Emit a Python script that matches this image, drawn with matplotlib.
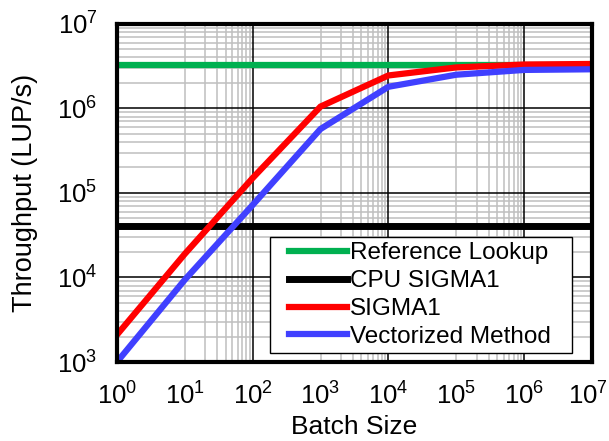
import numpy as np
import matplotlib
matplotlib.use("Agg")
import matplotlib.pyplot as plt
from matplotlib.patches import Rectangle
from matplotlib.transforms import ScaledTranslation

plt.rcParams['font.family'] = ['Liberation Sans', 'DejaVu Sans']
plt.rcParams['mathtext.fontset'] = 'custom'
plt.rcParams['mathtext.rm'] = 'Liberation Sans'
plt.rcParams['mathtext.default'] = 'regular'

# data
batch = [1e0, 1e1, 1e2, 1e3, 1e4, 1e5, 1e6, 1e7]
sigma1 = [2.1e3, 1.9e4, 1.5e5, 1.05e6, 2.45e6, 3.05e6, 3.3e6, 3.35e6]
vectorized = [1.0e3, 9.4e3, 7.2e4, 5.7e5, 1.8e6, 2.5e6, 2.85e6, 2.9e6]
reference_lookup = 3.25e6
cpu_sigma1 = 4.05e4

fig = plt.figure(figsize=(6.09, 4.41), dpi=100)
ax = fig.add_axes([0.192, 0.179, 0.780, 0.767])
ax.set_xscale('log')
ax.set_yscale('log')
ax.set_xlim(1e0, 1e7)
ax.set_ylim(1e3, 1e7)

# grid, Excel style: vertical majors every 2 decades, minors in the odd decades
for e in range(0, 7, 2):
    ax.axvline(10.0 ** e, color='black', lw=1.1, zorder=1)
for e in range(1, 7, 2):
    for k in range(1, 10):
        ax.axvline(k * 10.0 ** e, color='#BFBFBF', lw=1.1, zorder=0.5)
for e in range(3, 7):
    ax.axhline(10.0 ** e, color='black', lw=1.1, zorder=1)
    for k in range(2, 10):
        ax.axhline(k * 10.0 ** e, color='#BFBFBF', lw=1.1, zorder=0.5)

ax.axhline(reference_lookup, color='#00B050', lw=4.5, label='Reference Lookup', zorder=3)
ax.axhline(cpu_sigma1, color='black', lw=5, label='CPU SIGMA1', zorder=3)
ax.plot(batch, sigma1, color='#FF0000', lw=4.5, label='SIGMA1', zorder=4,
        solid_joinstyle='miter')
ax.plot(batch, vectorized, color='#4040FF', lw=4.5, label='Vectorized Method', zorder=4,
        solid_joinstyle='miter')

ax.set_xticks([10.0 ** e for e in range(0, 8)])
ax.set_yticks([10.0 ** e for e in range(3, 8)])
ax.minorticks_off()
ax.tick_params(axis='both', length=0, labelsize=18.5)
ax.tick_params(axis='x', pad=15)
ax.tick_params(axis='y', pad=14)

# keep the last x label inside the figure
last = ax.get_xticklabels()[-1]
last.set_transform(last.get_transform() + ScaledTranslation(-4 / 100, 0, fig.dpi_scale_trans))

for s in ax.spines.values():
    s.set_linewidth(3)
    s.set_zorder(5)

ax.set_xlabel('Batch Size', fontsize=19, va='center')
ax.xaxis.set_label_coords(0.5, -0.192)
ax.set_ylabel('Throughput (LUP/s)', fontsize=19.5, labelpad=14)

# legend box (Excel style, wider side margins than top/bottom)
ax.add_patch(Rectangle((0.322, 0.027), 0.636, 0.343, transform=ax.transAxes,
                       facecolor='white', edgecolor='black', lw=1.0, zorder=6))
leg = ax.legend(loc='center left', bbox_to_anchor=(0.362, 0.198), fontsize=17.5,
                frameon=False, handlelength=2.4, handletextpad=0.12,
                labelspacing=0.24, borderpad=0, borderaxespad=0)
leg.set_zorder(7)

fig.savefig('out.png', dpi=100)
